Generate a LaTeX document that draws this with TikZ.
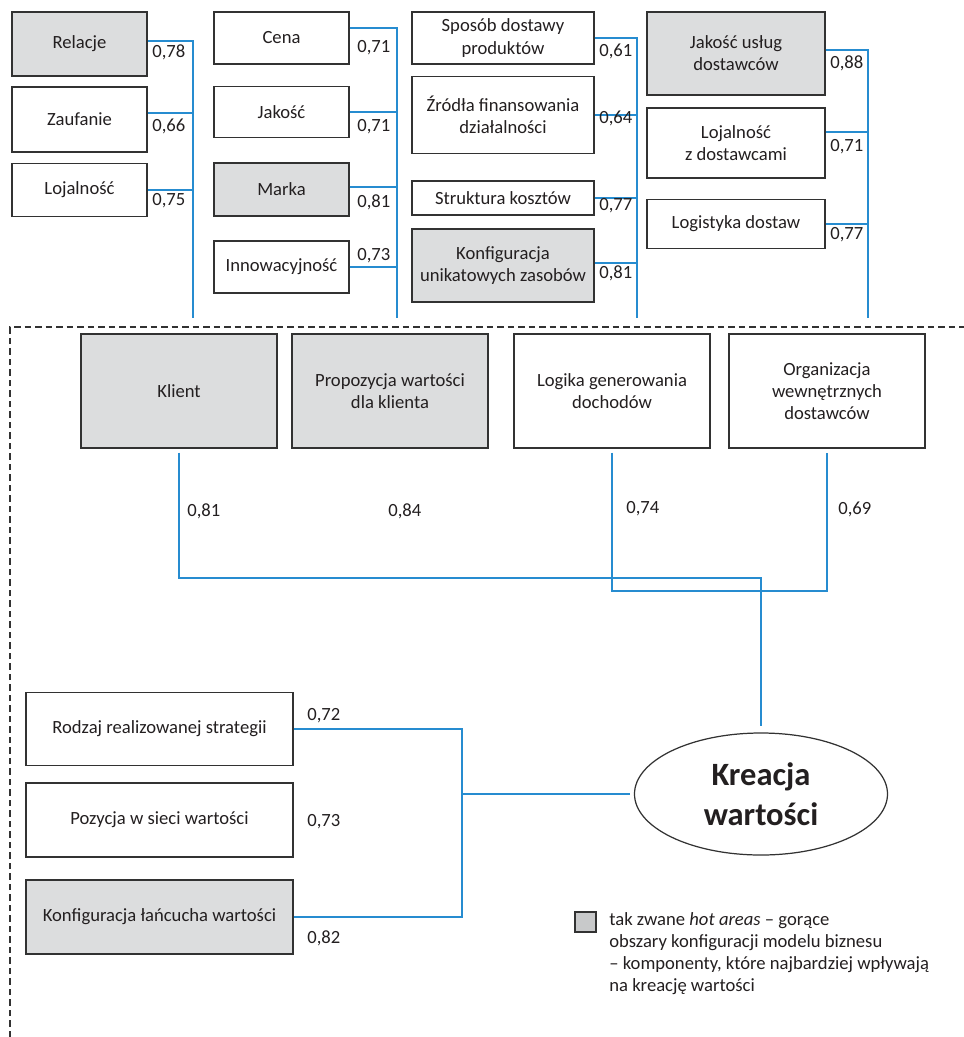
\documentclass[tikz,border=0pt]{standalone}
\usepackage{fontspec}
\setmainfont{Carlito}
\usetikzlibrary{shapes.geometric}
\definecolor{hotgray}{RGB}{220,221,222}
\definecolor{keygray}{RGB}{200,201,202}
\definecolor{linkblue}{RGB}{38,140,208}
\definecolor{edge}{RGB}{50,50,50}
\definecolor{ink}{RGB}{35,31,32}
\begin{document}
\begin{tikzpicture}[x=0.2mm,y=-0.2mm,
   box/.style={draw=edge,line width=0.7pt,fill=white,align=center,inner sep=1pt,text=ink,
     font=\fontsize{10.6}{12.6}\selectfont},
   hot/.style={box,fill=hotgray},
   conn/.style={draw=linkblue,line width=0.9pt},
   val/.style={anchor=west,inner sep=0pt,text=ink,font=\fontsize{10.6}{12.6}\selectfont}]
   \useasboundingbox (0,0) rectangle (964,1037);
   % Column 1
   \node[hot,minimum width=27mm,minimum height=12.8mm] (relacje) at (79.5,44) {Relacje};
   \node[box,minimum width=27mm,minimum height=13mm] (zaufanie) at (79.5,119.5) {Zaufanie};
   \node[box,minimum width=27mm,minimum height=10.6mm] (lojalnosc) at (79.5,190) {Lojalność};
   % Column 2
   \node[box,minimum width=27mm,minimum height=10.4mm] (cena) at (281.5,38) {Cena};
   \node[box,minimum width=27mm,minimum height=10.2mm] (jakosc) at (281.5,112) {Jakość};
   \node[hot,minimum width=27mm,minimum height=10.6mm] (marka) at (281.5,189.5) {Marka};
   \node[box,minimum width=27mm,minimum height=10.4mm] (innowacje) at (281.5,267) {Innowacyjność};
   % Column 3
   \node[box,minimum width=36.4mm,minimum height=10.4mm] (sposob) at (503,38) {Sposób dostawy\\produktów};
   \node[box,minimum width=36.4mm,minimum height=15.4mm] (zrodla) at (503,115) {Źródła finansowania\\działalności};
   \node[box,minimum width=36.4mm,minimum height=6.8mm] (koszty) at (503,198) {Struktura kosztów};
   \node[hot,minimum width=36.4mm,minimum height=14.6mm] (zasoby) at (503,265.5) {Konfiguracja\\unikatowych zasobów};
   % Column 4
   \node[hot,minimum width=35.6mm,minimum height=16.6mm] (uslugi) at (736,53.5) {Jakość usług\\dostawców};
   \node[box,minimum width=35.6mm,minimum height=14mm] (lojdost) at (736,143) {Lojalność\\z dostawcami};
   \node[box,minimum width=35.6mm,minimum height=9.8mm] (logistyka) at (736,224) {Logistyka dostaw};
   % Model components
   \node[hot,minimum width=39.2mm,minimum height=22.8mm] (klient) at (179,391) {Klient};
   \node[hot,minimum width=39.2mm,minimum height=22.8mm] (propozycja) at (390,391) {Propozycja wartości\\dla klienta};
   \node[box,minimum width=39.2mm,minimum height=22.8mm] (logika) at (612,391) {Logika generowania\\dochodów};
   \node[box,minimum width=39.2mm,minimum height=22.8mm] (organizacja) at (827,391) {Organizacja\\wewnętrznych\\dostawców};
   % Bottom left
   \node[box,minimum width=53.4mm,minimum height=14.6mm] (strategia) at (159.5,729) {Rodzaj realizowanej strategii};
   \node[box,minimum width=53.4mm,minimum height=14.8mm] (siec) at (159.5,820) {Pozycja w sieci wartości};
   \node[hot,minimum width=53.4mm,minimum height=14.8mm] (lancuch) at (159.5,917) {Konfiguracja łańcucha wartości};
   % Value creation
   \node[ellipse,draw=edge,line width=0.7pt,minimum width=50.6mm,minimum height=24.4mm,inner sep=0pt,
     align=center,text=ink,font=\bfseries\fontsize{18.5}{22.7}\selectfont] (kreacja) at (761,794) {Kreacja\\wartości};
   % Buses
   \coordinate (busA) at (193,318);
   \coordinate (busB) at (397,318);
   \coordinate (busC) at (637,318);
   \coordinate (busD) at (868,318);
   \draw[conn] ([yshift=0.6mm]relacje.east) -| (busA);
   \draw[conn] ([yshift=1.3mm]zaufanie.east) -| (busA);
   \draw[conn] (lojalnosc.east) -| (busA);
   \draw[conn] ([yshift=2mm]cena.east) -| (busB);
   \draw[conn] (jakosc.east) -| (busB);
   \draw[conn] ([yshift=0.5mm]marka.east) -| (busB);
   \draw[conn] (innowacje.east) -| (busB);
   \draw[conn] (sposob.east) -| (busC);
   \draw[conn] (zrodla.east) -| (busC);
   \draw[conn] (koszty.east) -| (busC);
   \draw[conn] ([yshift=0.5mm]zasoby.east) -| (busC);
   \draw[conn] ([yshift=0.7mm]uslugi.east) -| (busD);
   \draw[conn] ([yshift=2.2mm]lojdost.east) -| (busD);
   \draw[conn] (logistyka.east) -| (busD);
   % Model components to value creation
   \coordinate (jointK) at (kreacja.north |- 0,578);
   \coordinate (jointL) at (720,591);
   \draw[conn] ([yshift=-0.8mm]klient.south) |- (jointK) -- ([yshift=1.2mm]kreacja.north);
   \draw[conn] ([yshift=-0.8mm]logika.south) |- (jointL) -| ([yshift=-0.8mm]organizacja.south);
   \coordinate (busE) at (462,820);
   \draw[conn] (strategia.east) -| (busE) |- (lancuch.east);
   \draw[conn] (busE |- kreacja.west) -- ([xshift=-0.8mm]kreacja.west);
   % Loadings
   \node[val] (vrelacje) at (152,52) {0,78};
   \node[val] (vzaufanie) at (152,126) {0,66};
   \node[val] (vlojalnosc) at (152,201) {0,75};
   \node[val] (vcena) at (357,48) {0,71};
   \node[val] (vjakosc) at (357,127) {0,71};
   \node[val] (vmarka) at (357,202) {0,81};
   \node[val] (vinnowacje) at (357,256) {0,73};
   \node[val] (vsposob) at (599,51) {0,61};
   \node[val] (vzrodla) at (599,118) {0,64};
   \node[val] (vkoszty) at (599,206) {0,77};
   \node[val] (vzasoby) at (599,273) {0,81};
   \node[val] (vuslugi) at (830,63) {0,88};
   \node[val] (vlojdost) at (830,147) {0,71};
   \node[val] (vlogistyka) at (830,235) {0,77};
   \node[val] (vklient) at (187,511) {0,81};
   \node[val] (vpropozycja) at (388,511) {0,84};
   \node[val] (vlogika) at (626,509) {0,74};
   \node[val] (vorganizacja) at (838,509) {0,69};
   \node[val] (vstrategia) at (307,716) {0,72};
   \node[val] (vsiec) at (307,822) {0,73};
   \node[val] (vlancuch) at (307,938) {0,82};
   % Frame
   \draw[edge,line width=0.7pt,dash pattern=on 1.3mm off 0.8mm] (10,1037) -- (10,327) -- (964,327);
   % Legend
   \node[draw=edge,fill=keygray,line width=0.7pt,minimum width=4.2mm,minimum height=4mm,inner sep=0pt] (hotkey) at (585.5,922) {};
   \node[anchor=north west,align=left,inner sep=0pt,text=ink,font=\fontsize{10.6}{12.6}\selectfont] (hotnote) at (609,912)
     {tak zwane \textit{hot areas} -- gorące\\obszary konfiguracji modelu biznesu\\-- komponenty, które najbardziej wpływają\\na kreację wartości};
\end{tikzpicture}
\end{document}
